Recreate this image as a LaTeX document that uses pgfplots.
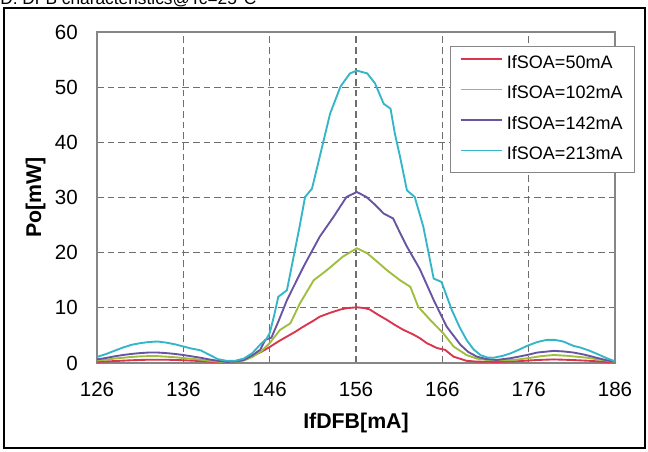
\documentclass[border=0pt]{standalone}
\usepackage{fontspec}
\setmainfont{Liberation Sans}
\usepackage{pgfplots}
\pgfplotsset{compat=1.18}

\definecolor{soa50}{RGB}{218,52,78}
\definecolor{soa102}{RGB}{158,190,60}
\definecolor{soa142}{RGB}{104,84,162}
\definecolor{soa213}{RGB}{52,182,200}
\definecolor{gridc}{RGB}{110,110,110}
\definecolor{axisc}{RGB}{134,134,134}

\begin{document}
\begin{tikzpicture}
\useasboundingbox (0,0) rectangle (486pt,338.25pt);
\fill[white] (0,0) rectangle (486pt,338.25pt);
\node[anchor=base west, inner sep=0, font=\fontsize{13}{15}\selectfont]
  at (0pt,335.2pt) {D. DFB characteristics@Tc=25°C};
\draw[black, line width=1.5pt] (3pt,2.25pt) rectangle (483.75pt,332.25pt);
\begin{axis}[
  at={(72.75pt,66pt)}, anchor=south west,
  scale only axis, width=388.5pt, height=248.25pt,
  xmin=126, xmax=186, ymin=0, ymax=60,
  xtick={126,136,...,186}, ytick={0,10,...,60},
  grid=major,
  major grid style={gridc, line width=0.9pt, dash pattern=on 5pt off 3pt},
  axis line style={axisc, line width=1.1pt},
  major tick length=0pt,
  ticklabel style={font=\fontsize{15.4}{18}\selectfont, inner sep=0pt},
  /pgf/number format/assume math mode=true,
  xticklabel style={anchor=north, yshift=-14.25pt},
  yticklabel style={anchor=east, xshift=-14.25pt},
  xlabel={IfDFB[mA]}, ylabel={Po[mW]},
  label style={font=\bfseries\fontsize{16}{19}\selectfont, inner sep=0pt},
  xlabel style={at={(axis description cs:0.5,0)}, anchor=base, yshift=-48.75pt},
  ylabel style={at={(axis description cs:0,0.5)}, anchor=base, yshift=42pt},
  legend style={at={(0.681,0.958)}, anchor=north west, draw=axisc,
    line width=1pt, fill=white, inner xsep=7pt, inner ysep=4.25pt,
    row sep=5.9pt, column sep=1pt, font=\fontsize{13.5}{15}\selectfont,
    nodes={inner sep=2pt, text height=10pt, text depth=3pt}},
  legend cell align=left,
  legend image code/.code={\draw[#1] (0pt,3.5pt) -- (31pt,3.5pt);},
  every axis plot/.append style={line width=1.4pt, no marks},
]
\addplot[soa50] coordinates {
(126,0.2) (128,0.35) (130,0.5) (132,0.6) (134,0.6) (136,0.5) (138,0.35)
(140,0.15) (141,0.1) (142,0.15) (143,0.6) (144,1.3) (145,2.0) (146,2.9)
(147,3.9) (148,4.8) (149,5.7) (149.9,6.6) (151,7.6) (151.8,8.4) (153,9.1)
(154.2,9.7) (155,9.95) (156.1,10.1) (157,9.95) (157.6,9.7) (158.5,8.8)
(159.6,7.8) (160.5,6.9) (161.5,6.0) (162.6,5.2) (163.4,4.5) (164.2,3.6)
(165.4,2.7) (166.3,2.4) (167.3,1.15) (168.8,0.4) (170,0.25) (172.5,0.2)
(175,0.35) (177,0.55) (178.9,0.65) (181,0.55) (183,0.4) (186,0.1)
};
\addlegendentry{IfSOA=50mA}
\addplot[soa102] coordinates {
(126,0.45) (127,0.6) (128,0.8) (129,0.95) (130,1.1) (131,1.2) (132,1.25)
(133,1.25) (134,1.15) (135,1.05) (136,0.9) (137,0.75) (138,0.6) (139,0.4)
(140,0.25) (141,0.15) (142,0.2) (143,0.45) (144,1.1) (145,2.1) (146,3.6)
(147.2,6.0) (148.4,7.2) (149.5,10.8) (151.1,15.0) (152.6,16.8) (154.5,19.3)
(156.1,20.8) (157.3,19.9) (158.5,18.3) (159.6,16.8) (161.1,15.0) (162.3,13.8)
(163.2,10.2) (164.6,7.8) (166.1,5.4) (167.3,3.0) (168.8,1.45) (170,0.8)
(171.2,0.55) (173,0.5) (174.6,0.6) (176,0.9) (177.5,1.25) (178.9,1.45)
(180.5,1.3) (182.7,0.97) (184.5,0.55) (186,0.2)
};
\addlegendentry{IfSOA=102mA}
\addplot[soa142] coordinates {
(126,0.65) (127,0.9) (128,1.2) (129,1.45) (130,1.65) (131,1.8) (132,1.9)
(133,1.9) (134,1.8) (135,1.65) (136,1.45) (137,1.2) (138,0.95) (139,0.65)
(140,0.4) (141,0.2) (142,0.25) (143,0.55) (144,1.4) (144.9,2.4) (145.5,4.2)
(146.2,4.6) (147,7.5) (148,11.4) (149.9,17.4) (151.8,22.9) (153.4,26.5)
(154.9,30.1) (156.1,31.0) (157.2,30.1) (158.2,28.7) (159.2,27.1) (160.3,26.2)
(161.1,23.6) (161.9,21.1) (163.4,17.0) (165.0,11.4) (166.5,6.6) (168.1,3.3)
(169,2.0) (170,1.15) (171,0.75) (172.3,0.55) (174,0.9) (175.8,1.45)
(177,1.9) (178.9,2.2) (180,2.1) (181.2,1.9) (182.5,1.5) (184,0.9)
(185,0.5) (186,0.25)
};
\addlegendentry{IfSOA=142mA}
\addplot[soa213] coordinates {
(126,1.1) (127,1.6) (128,2.2) (129,2.8) (130,3.3) (131,3.6) (132,3.8)
(133,3.9) (134,3.7) (135,3.4) (136,3.0) (137,2.6) (138,2.3) (139,1.5)
(140,0.7) (141,0.4) (142,0.4) (143,0.8) (144,1.8) (145,3.5) (145.6,4.3)
(146,5.4) (146.5,8.5) (147,12.0) (148,13.2) (148.7,18.7) (149.5,25.0)
(150.1,30.1) (150.9,31.6) (151.8,37.4) (153.0,45.2) (154.2,50.1)
(155.3,52.5) (156.1,53.0) (157.3,52.5) (158.2,50.7) (159.2,47.0)
(160.0,46.1) (160.5,41.6) (161.1,37.4) (161.9,31.3) (162.8,30.1)
(163.8,24.7) (165.0,15.3) (165.9,14.7) (167.1,9.6) (168,6.5) (168.8,4.2)
(169.6,2.5) (170.4,1.45) (171.2,1.0) (171.9,0.95) (173,1.3) (173.9,1.75)
(175,2.5) (175.8,3.1) (177,3.8) (178.1,4.2) (179,4.2) (180,3.9)
(181.2,3.1) (182,2.8) (183.1,2.2) (184,1.6) (185,0.9) (186,0.3)
};
\addlegendentry{IfSOA=213mA}
\end{axis}
\end{tikzpicture}
\end{document}
